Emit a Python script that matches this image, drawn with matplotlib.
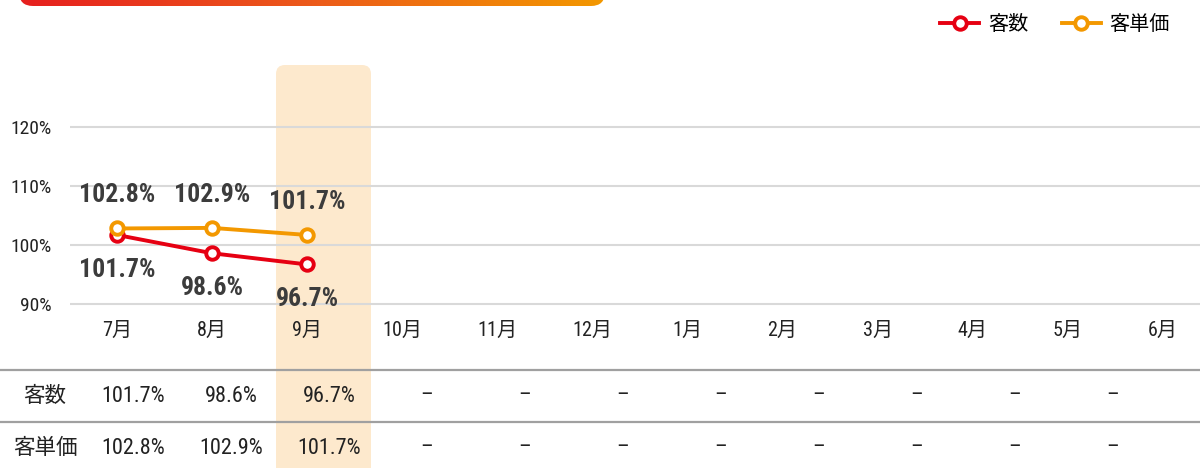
import matplotlib
matplotlib.use("Agg")
import matplotlib.pyplot as plt
import numpy as np
from matplotlib import font_manager
from matplotlib.patches import FancyBboxPatch

# ---------------- data ----------------
months = ['7月', '8月', '9月', '10月', '11月', '12月', '1月', '2月', '3月', '4月', '5月', '6月']
customers = [101.7, 98.6, 96.7]          # 客数
unit_price = [102.8, 102.9, 101.7]       # 客単価
series_names = ['客数', '客単価']
yticks = [90, 100, 110, 120]

# ---------------- fonts ----------------
entries = font_manager.fontManager.ttflist
installed = {f.name for f in entries}
narrow = None
for cand in ['Liberation Sans Narrow', 'Roboto Condensed', 'Open Sans Condensed',
             'DejaVu Sans Condensed']:
    if cand in installed:
        narrow = cand
        break
if narrow is None:
    conds = sorted({f.name for f in entries
                    if ('Condensed' in f.name or 'Narrow' in f.name)
                    and 'Mono' not in f.name and 'Serif' not in f.name})
    narrow = conds[0] if conds else None
NARROW_OK = narrow is not None
if narrow is None:
    narrow = 'Liberation Sans'
FAM = [narrow, 'Noto Sans CJK JP', 'DejaVu Sans']
plt.rcParams['font.family'] = FAM
S = 1.0 if NARROW_OK else 0.86   # shrink factor if no narrow font available

RED = '#e60012'
ORANGE = '#f39800'
BAND = '#fde9cd'
TXT = '#3c3c3c'

W, H = 1200, 468
fig = plt.figure(figsize=(W / 100, H / 100), dpi=100)


def fx(px):
    return px / W


def fy(py):
    return 1 - py / H


# ---------------- background decoration ----------------
ax_bg = fig.add_axes([0, 0, 1, 1], zorder=0)
ax_bg.axis('off')

band = FancyBboxPatch((276, 65), 95, 500, boxstyle='round,pad=0,rounding_size=9',
                      facecolor=BAND, edgecolor='none')
ax_bg.add_patch(band)

clip = FancyBboxPatch((19, -40), 586, 46, boxstyle='round,pad=0,rounding_size=14',
                      facecolor='none', edgecolor='none')
ax_bg.add_patch(clip)
grad = np.linspace(0, 1, 256).reshape(1, -1)
cmap = matplotlib.colors.LinearSegmentedColormap.from_list('g', ['#e61f1f', '#ec5a1a', ORANGE])
im = ax_bg.imshow(grad, extent=(19, 605, 6, -40), aspect='auto', cmap=cmap, zorder=1)
im.set_clip_path(clip)
ax_bg.set_xlim(0, W)
ax_bg.set_ylim(H, 0)

# ---------------- line chart ----------------
x_left, x_right = 69.5, 1210.5
y_top, y_bot = 68, 315.8
ax = fig.add_axes([fx(x_left), fy(y_bot), (x_right - x_left) / W, (y_bot - y_top) / H], zorder=2)
ax.patch.set_alpha(0)
ax.set_xlim(-0.5, len(months) - 0.5)
ax.set_ylim(88, 130)
for s in ax.spines.values():
    s.set_visible(False)
ax.set_yticks(yticks)
ax.set_yticklabels([f'{v}%' for v in yticks], fontsize=14 * S, color='#222222')
ax.set_xticks(range(len(months)))
ax.set_xticklabels(months, fontsize=14.5, color='#222222')
ax.tick_params(axis='both', length=0)
ax.tick_params(axis='y', pad=13)
ax.tick_params(axis='x', pad=4)
ax.grid(axis='y', color='#d9d9d9', lw=1.5)
ax.set_axisbelow(True)

xc = np.arange(len(customers))
xu = np.arange(len(unit_price))
l1, = ax.plot(xc, customers, color=RED, lw=2.8, marker='o', ms=9, mew=2.8,
              mfc='white', mec=RED, zorder=3, label=series_names[0])
l2, = ax.plot(xu, unit_price, color=ORANGE, lw=2.8, marker='o', ms=9, mew=2.8,
              mfc='white', mec=ORANGE, zorder=4, label=series_names[1])

for x, v in zip(xu, unit_price):
    ax.annotate(f'{v:.1f}%', (x, v), xytext=(0, 24), textcoords='offset points',
                ha='center', va='center', fontsize=18.5 * S, fontweight='bold', color=TXT)
for x, v in zip(xc, customers):
    ax.annotate(f'{v:.1f}%', (x, v), xytext=(0, -25), textcoords='offset points',
                ha='center', va='center', fontsize=18.5 * S, fontweight='bold', color=TXT)

# legend
fig.legend(handles=[l1, l2], labels=series_names, loc='center right',
           bbox_to_anchor=(fx(1170), fy(25)), ncol=2, frameon=False,
           handlelength=1.9, handletextpad=0.45, columnspacing=1.7,
           borderpad=0, borderaxespad=0, markerscale=1.0,
           prop={'family': FAM, 'size': 14.5})

# ---------------- table ----------------
col_w = 98
c0 = 133
n_cols = len(months)
t_left = c0 - col_w / 2
t_right = c0 + (n_cols - 0.5) * col_w
ax_t = fig.add_axes([fx(t_left), fy(474), (t_right - t_left) / W, (474 - 370) / H], zorder=2)
ax_t.patch.set_alpha(0)
ax_t.set_xlim(-0.5, n_cols - 0.5)
ax_t.set_ylim(1.5, -0.5)
ax_t.axis('off')

rows = [customers, unit_price]
label_x = -(c0 - 45) / col_w
lx0 = -t_left / (t_right - t_left)
visible_cols = [i for i in range(n_cols) if c0 + i * col_w + 20 < W]
for r, (name, vals) in enumerate(zip(series_names, rows)):
    ax_t.axhline(r - 0.5, xmin=lx0, xmax=1, color='#a0a0a0', lw=1.6, clip_on=False)
    ax_t.text(label_x, r, name, ha='center', va='center', fontsize=15.5, color='#222222',
              clip_on=False)
    for i in visible_cols:
        txt = f'{vals[i]:.1f}%' if i < len(vals) else '–'
        ax_t.text(i, r, txt, ha='center', va='center', fontsize=16 * S, color='#222222')

fig.savefig('out.png', dpi=100)
